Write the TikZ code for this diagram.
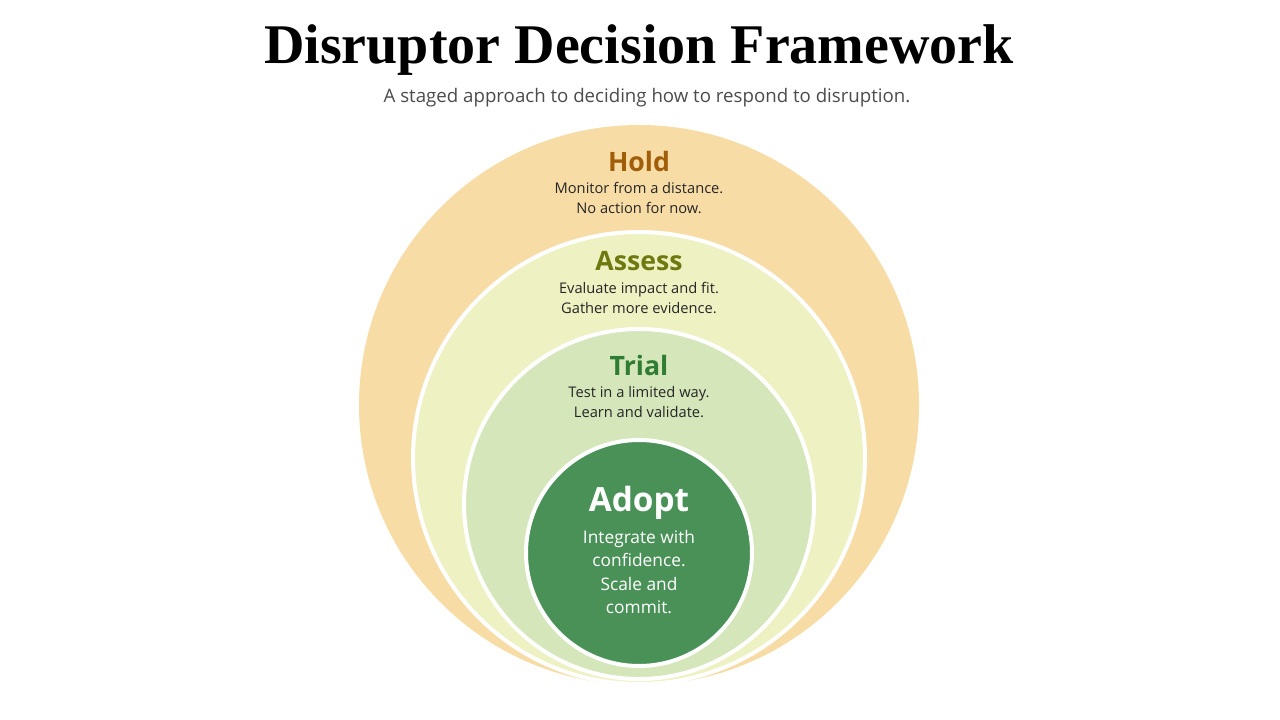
\documentclass[tikz,border=0pt]{standalone}
\usepackage{fontspec}
\setmainfont{Liberation Serif}
\setsansfont{Open Sans}
\begin{document}
\begin{tikzpicture}[x=0.75pt,y=-0.75pt,
  ring/.style={draw=white,line width=3pt},
  head/.style={font=\sffamily\bfseries\fontsize{20}{24}\selectfont},
  desc/.style={font=\sffamily\fontsize{11}{15}\selectfont,align=center,text=black!85}]
\definecolor{holdc}{HTML}{F8DCA6}
\definecolor{assc}{HTML}{EEF1C2}
\definecolor{trialc}{HTML}{D4E6BA}
\definecolor{adoptc}{HTML}{4A9158}
\useasboundingbox[fill=white] (0,0) rectangle (1280,720);
\fill[holdc] (639,405) circle (280);
\path[ring,fill=assc] (639,458) circle (226);
\path[ring,fill=trialc] (639,504) circle (175);
\path[ring,fill=adoptc] (639,553) circle (113);
\node (title) at (639,50) {\bfseries\fontsize{42}{44}\selectfont Disruptor Decision Framework};
\node[font=\sffamily\fontsize{14}{16}\selectfont,text=black!70] (sub) at (647,98) {A staged approach to deciding how to respond to disruption.};
\node[head,text={rgb,255:red,160;green,94;blue,10}] (h) at (639,162) {Hold};
\node[desc] (hd) at (639,198) {Monitor from a distance.\\No action for now.};
\node[head,text={rgb,255:red,110;green,122;blue,16}] (a) at (639,261) {Assess};
\node[desc] (ad) at (639,298) {Evaluate impact and fit.\\Gather more evidence.};
\node[head,text={rgb,255:red,46;green,125;blue,50}] (t) at (639,365) {Trial};
\node[desc] (td) at (639,402) {Test in a limited way.\\Learn and validate.};
\node[head,text=white,font=\sffamily\bfseries\fontsize{25}{28}\selectfont] (ad2) at (639,503) {Adopt};
\node[desc,text=white,font=\sffamily\fontsize{13}{17.5}\selectfont] (add) at (639,572) {Integrate with\\confidence.\\Scale and\\commit.};
\end{tikzpicture}
\end{document}
